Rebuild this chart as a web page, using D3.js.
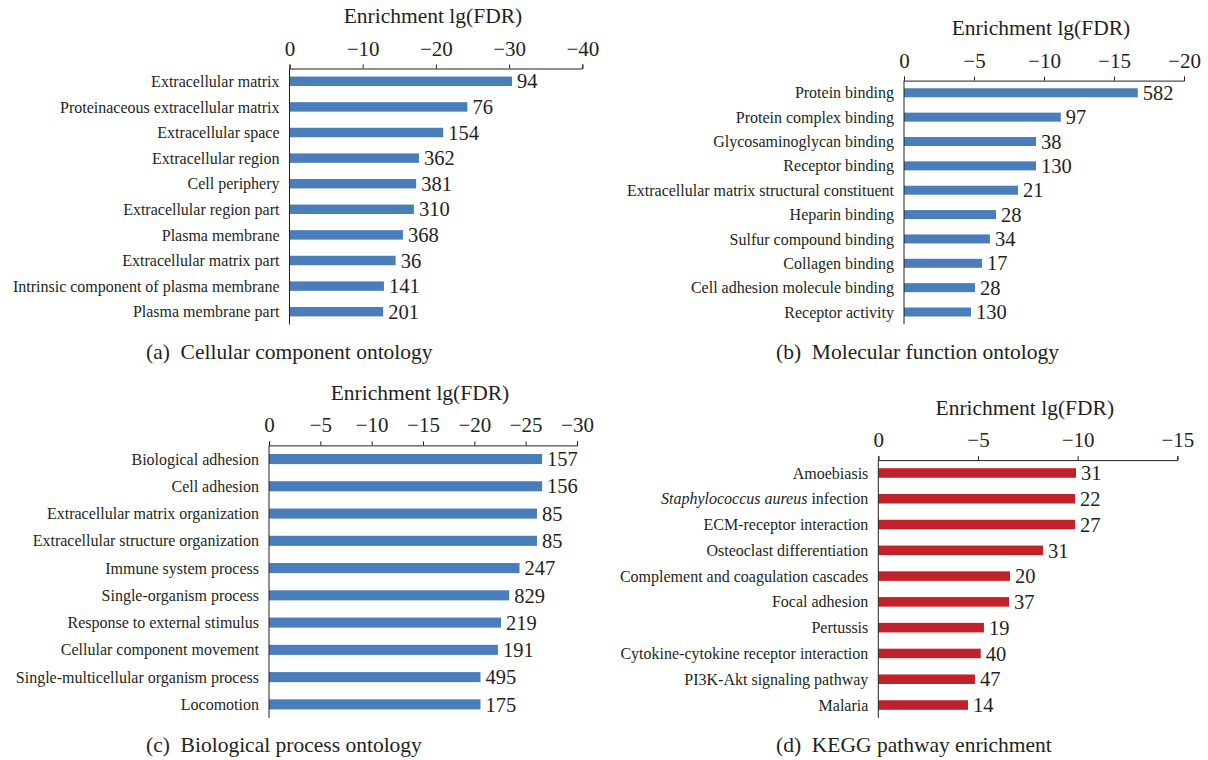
<!DOCTYPE html>
<html>
<head>
<meta charset="utf-8">
<script src="https://cdn.jsdelivr.net/npm/d3@7"></script>
<style>
  html, body { margin: 0; padding: 0; background: #fff; }
  svg { display: block; }
</style>
</head>
<body>
<svg id="chart" width="1208" height="760"></svg>
<script>
// ---- Data: enrichment lg(FDR) per term and number of genes per term ----
const ccTerms = [
  "Extracellular matrix", "Proteinaceous extracellular matrix", "Extracellular space",
  "Extracellular region", "Cell periphery", "Extracellular region part",
  "Plasma membrane", "Extracellular matrix part", "Intrinsic component of plasma membrane",
  "Plasma membrane part"
];
const ccFDR = [-30.4, -24.3, -21.0, -17.7, -17.3, -17.0, -15.5, -14.5, -12.9, -12.8];
const ccCounts = [94, 76, 154, 362, 381, 310, 368, 36, 141, 201];
const ccTicks = [0, -10, -20, -30, -40];

const mfTerms = [
  "Protein binding", "Protein complex binding", "Glycosaminoglycan binding",
  "Receptor binding", "Extracellular matrix structural constituent", "Heparin binding",
  "Sulfur compound binding", "Collagen binding", "Cell adhesion molecule binding",
  "Receptor activity"
];
const mfFDR = [-16.7, -11.2, -9.43, -9.43, -8.14, -6.57, -6.14, -5.57, -5.07, -4.79];
const mfCounts = [582, 97, 38, 130, 21, 28, 34, 17, 28, 130];
const mfTicks = [0, -5, -10, -15, -20];

const bpTerms = [
  "Biological adhesion", "Cell adhesion", "Extracellular matrix organization",
  "Extracellular structure organization", "Immune system process", "Single-organism process",
  "Response to external stimulus", "Cellular component movement",
  "Single-multicellular organism process", "Locomotion"
];
const bpFDR = [-26.6, -26.6, -26.1, -26.1, -24.4, -23.4, -22.6, -22.3, -20.6, -20.6];
const bpCounts = [157, 156, 85, 85, 247, 829, 219, 191, 495, 175];
const bpTicks = [0, -5, -10, -15, -20, -25, -30];

const keggTerms = [
  "Amoebiasis", "Staphylococcus aureus infection", "ECM-receptor interaction",
  "Osteoclast differentiation", "Complement and coagulation cascades", "Focal adhesion",
  "Pertussis", "Cytokine-cytokine receptor interaction", "PI3K-Akt signaling pathway",
  "Malaria"
];
const keggFDR = [-9.92, -9.87, -9.87, -8.26, -6.61, -6.56, -5.30, -5.14, -4.85, -4.50];
const keggCounts = [31, 22, 27, 31, 20, 37, 19, 40, 47, 14];
const keggTicks = [0, -5, -10, -15];

// species names set in italics inside term labels
const italicNames = ["Staphylococcus aureus"];

const axisTitle = "Enrichment lg(FDR)";

// ---- Panel layout ----
const panels = [
  { terms: ccTerms, fdr: ccFDR, counts: ccCounts, ticks: ccTicks,
    caption: "(a)\u2002Cellular component ontology",
    x0: 289.5, x1: 582.3, top: 68.5, bottom: 324.5, color: "#4a7ebb", capX: 146, capY: 359 },
  { terms: mfTerms, fdr: mfFDR, counts: mfCounts, ticks: mfTicks,
    caption: "(b)\u2002Molecular function ontology",
    x0: 904, x1: 1184, top: 80.6, bottom: 324.2, color: "#4a7ebb", capX: 776, capY: 359 },
  { terms: bpTerms, fdr: bpFDR, counts: bpCounts, ticks: bpTicks,
    caption: "(c)\u2002Biological process ontology",
    x0: 269, x1: 577, top: 445.4, bottom: 718, color: "#4a7ebb", capX: 146, capY: 752 },
  { terms: keggTerms, fdr: keggFDR, counts: keggCounts, ticks: keggTicks,
    caption: "(d)\u2002KEGG pathway enrichment",
    x0: 878.3, x1: 1177.3, top: 460.1, bottom: 717.9, color: "#c1212a", capX: 776, capY: 752 }
];

const FONT = "\"Liberation Serif\", \"Times New Roman\", serif";
const INK = "#231f20";

const svg = d3.select("#chart");
svg.append("rect").attr("width", 1208).attr("height", 760).attr("fill", "#fff");

const fmt = d3.format("d");

function serifText(sel, size) {
  return sel.style("font-family", FONT).style("font-size", size + "px").style("fill", INK);
}

panels.forEach(p => {
  const g = svg.append("g");
  const domainMin = d3.min(p.ticks);

  const x = d3.scaleLinear().domain([0, domainMin]).range([p.x0, p.x1]);
  const y = d3.scaleBand().domain(p.terms).range([p.top, p.bottom])
    .paddingInner(0.63).paddingOuter(0.315);

  // bars
  g.selectAll("rect.bar").data(p.terms).join("rect")
    .attr("class", "bar")
    .attr("x", d => x(0))
    .attr("y", d => y(d))
    .attr("width", (d, i) => x(p.fdr[i]) - x(0))
    .attr("height", y.bandwidth())
    .attr("fill", p.color);

  // gene counts at bar ends
  serifText(g.selectAll("text.count").data(p.terms).join("text")
    .attr("class", "count")
    .attr("x", (d, i) => x(p.fdr[i]) + 5)
    .attr("y", d => y(d) + y.bandwidth() / 2)
    .attr("dy", "0.35em")
    .text((d, i) => p.counts[i]), 20.5);

  // term labels
  const labels = serifText(g.selectAll("text.term").data(p.terms).join("text")
    .attr("class", "term")
    .attr("x", x(0) - 10)
    .attr("y", d => y(d) + y.bandwidth() / 2)
    .attr("dy", "0.35em")
    .attr("text-anchor", "end"), 16);
  labels.each(function(d) {
    const t = d3.select(this);
    const it = italicNames.find(n => d.startsWith(n));
    if (it) {
      t.append("tspan").style("font-style", "italic").text(it);
      t.append("tspan").text(d.slice(it.length));
    } else {
      t.text(d);
    }
  });

  // top value axis
  const axis = d3.axisTop(x).tickValues(p.ticks).tickFormat(fmt)
    .tickSizeInner(4).tickSizeOuter(4).tickPadding(9);
  const ag = g.append("g").attr("transform", `translate(0,${p.top})`).call(axis);
  ag.selectAll("path, line").attr("stroke", INK).attr("stroke-width", 1);
  serifText(ag.selectAll("text"), 21);

  // vertical category axis line
  g.append("line")
    .attr("x1", x(0)).attr("x2", x(0))
    .attr("y1", p.top).attr("y2", p.bottom)
    .attr("stroke", INK).attr("stroke-width", 1);

  // axis title
  serifText(g.append("text")
    .attr("x", (p.x0 + p.x1) / 2 - 3)
    .attr("y", p.top - 45.5)
    .attr("text-anchor", "middle")
    .text(axisTitle), 21.5);

  // panel caption
  serifText(g.append("text")
    .attr("x", p.capX)
    .attr("y", p.capY)
    .text(p.caption), 21.5);
});
</script>
</body>
</html>
